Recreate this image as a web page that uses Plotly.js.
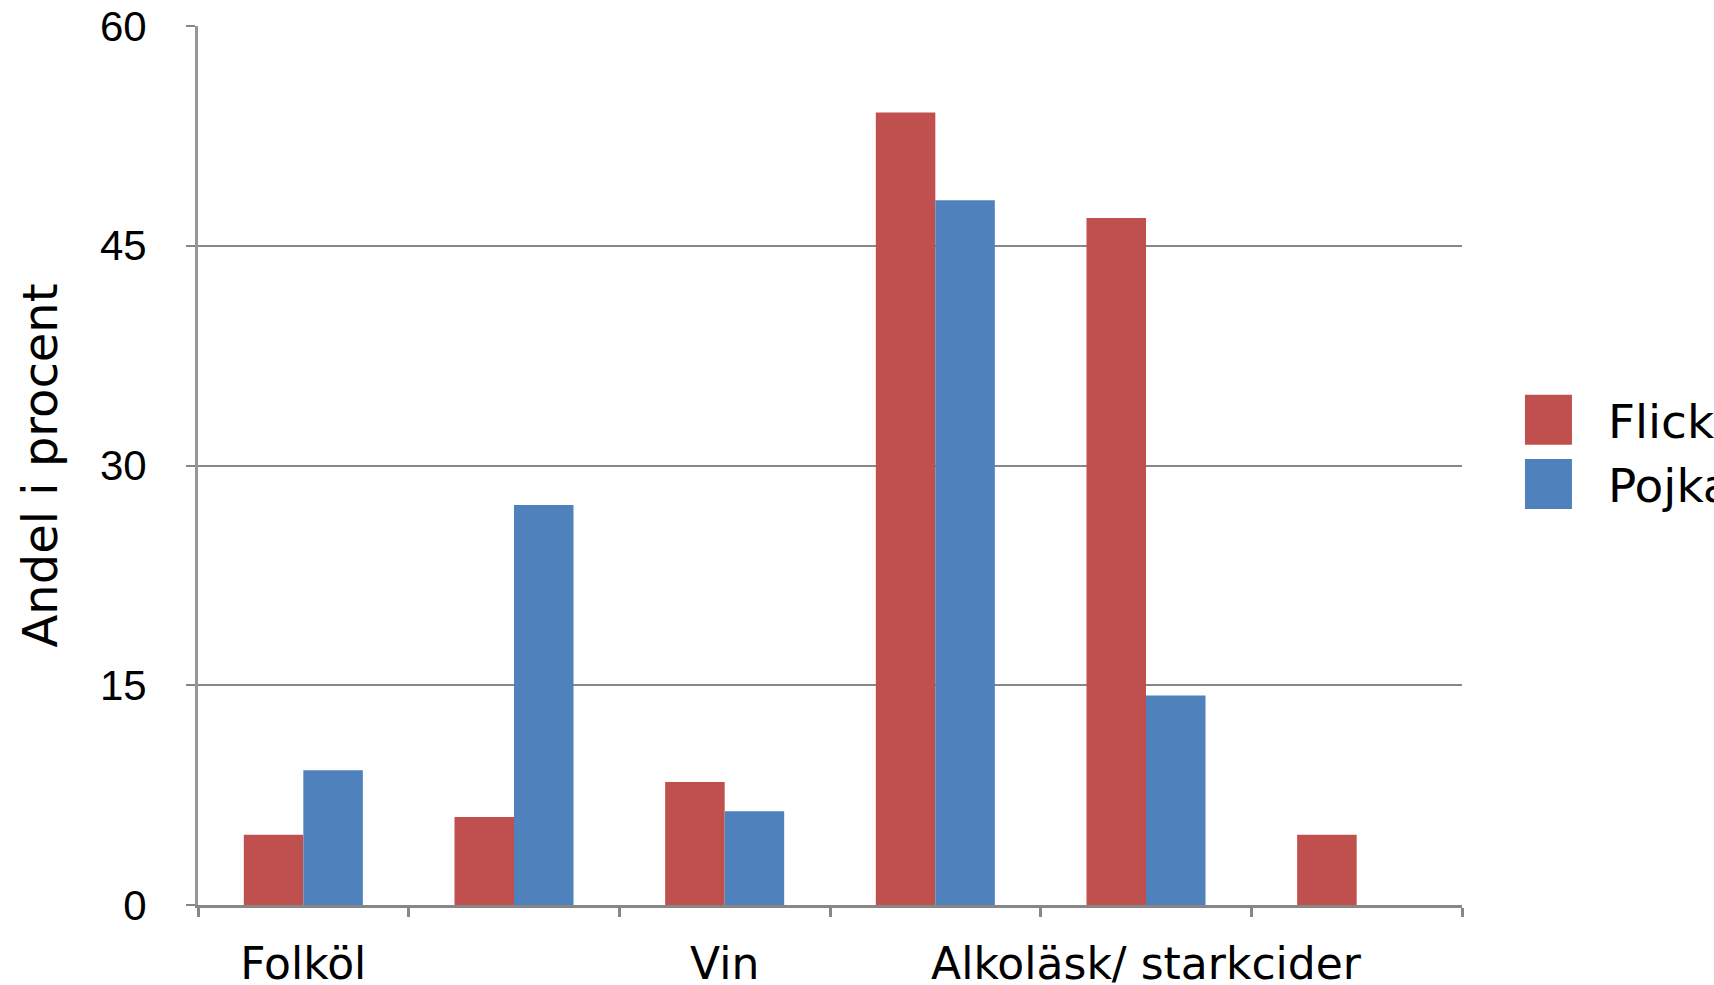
<!DOCTYPE html>
<html>
<head>
<meta charset="utf-8">
<script src="https://cdn.plot.ly/plotly-3.0.1.min.js"></script>
<style>
  html, body { margin: 0; padding: 0; background: #fff; }
  #chart { width: 1714px; height: 985px; }
</style>
</head>
<body>
<div id="chart"></div>
<script>
// Category tick labels (only every other label is shown in the reference)
const categories = ["Folköl", "", "Vin", "", "Alkoläsk/ starkcider", ""];
const positions = categories.map((_, i) => i);

// Series values (percent)
const flickor = [4.8, 6.0, 8.4, 54.1, 46.9, 4.8];
const pojkar  = [9.2, 27.3, 6.4, 48.1, 14.3, null];

const seriesNames = ["Flickor", "Pojkar"];
const yTicks = [0, 15, 30, 45, 60];

const gridColor = "#878787";
const axisColor = "#969696";
const font = "DejaVu Sans, Verdana, sans-serif";
const tickFont = "Liberation Sans, Arial, sans-serif";

const data = [
  { type: "bar", name: seriesNames[0], x: positions, y: flickor,
    marker: { color: "#C0504D" }, hoverinfo: "y" },
  { type: "bar", name: seriesNames[1], x: positions, y: pojkar,
    marker: { color: "#4F81BD" }, hoverinfo: "y" }
];

const layout = {
  width: 1714, height: 985,
  margin: { l: 198, r: 252, t: 26, b: 80, autoexpand: false },
  paper_bgcolor: "#ffffff", plot_bgcolor: "#ffffff",
  font: { family: font, color: "#000000" },
  barmode: "group",
  bargap: 0.435,
  bargroupgap: 0,
  showlegend: true,
  legend: {
    x: 1.068, xanchor: "left", y: 0.515, yanchor: "middle",
    font: { size: 47, family: font, color: "#000" },
    bgcolor: "rgba(0,0,0,0)", borderwidth: 0,
    itemwidth: 50, tracegroupgap: 0
  },
  xaxis: {
    range: [-0.5, 5.5], fixedrange: true,
    tickmode: "array", tickvals: positions, ticktext: categories,
    ticks: "", showgrid: false, zeroline: false,
    showline: true, linecolor: gridColor, linewidth: 3,
    tickfont: { size: 44, family: font, color: "#000" },
    ticklabelstandoff: 18,
    minor: { tick0: -0.5, dtick: 1, ticks: "outside", ticklen: 9,
             tickwidth: 3, tickcolor: gridColor, showgrid: false }
  },
  yaxis: {
    range: [0, 60], fixedrange: true,
    tickmode: "array", tickvals: yTicks, ticktext: yTicks.map(String),
    ticks: "outside", ticklen: 9, tickwidth: 2, tickcolor: gridColor,
    showgrid: true, gridcolor: gridColor, gridwidth: 2,
    zeroline: false,
    showline: true, linecolor: axisColor, linewidth: 3,
    tickfont: { size: 42, family: tickFont, color: "#000" },
    ticklabelstandoff: 31,
    title: { text: "Andel i procent", font: { size: 48, family: font, color: "#000" }, standoff: 28 }
  }
};

Plotly.newPlot("chart", data, layout, { displayModeBar: false, staticPlot: true }).then(gd => {
  gd.querySelectorAll(".legend [clip-path]").forEach(e => e.removeAttribute("clip-path"));
  gd.querySelectorAll(".legend .legendpoints path").forEach(p => {
    p.removeAttribute("transform");
    p.setAttribute("d", "M24,25H-23V-25H24Z");
  });
});
</script>
</body>
</html>
